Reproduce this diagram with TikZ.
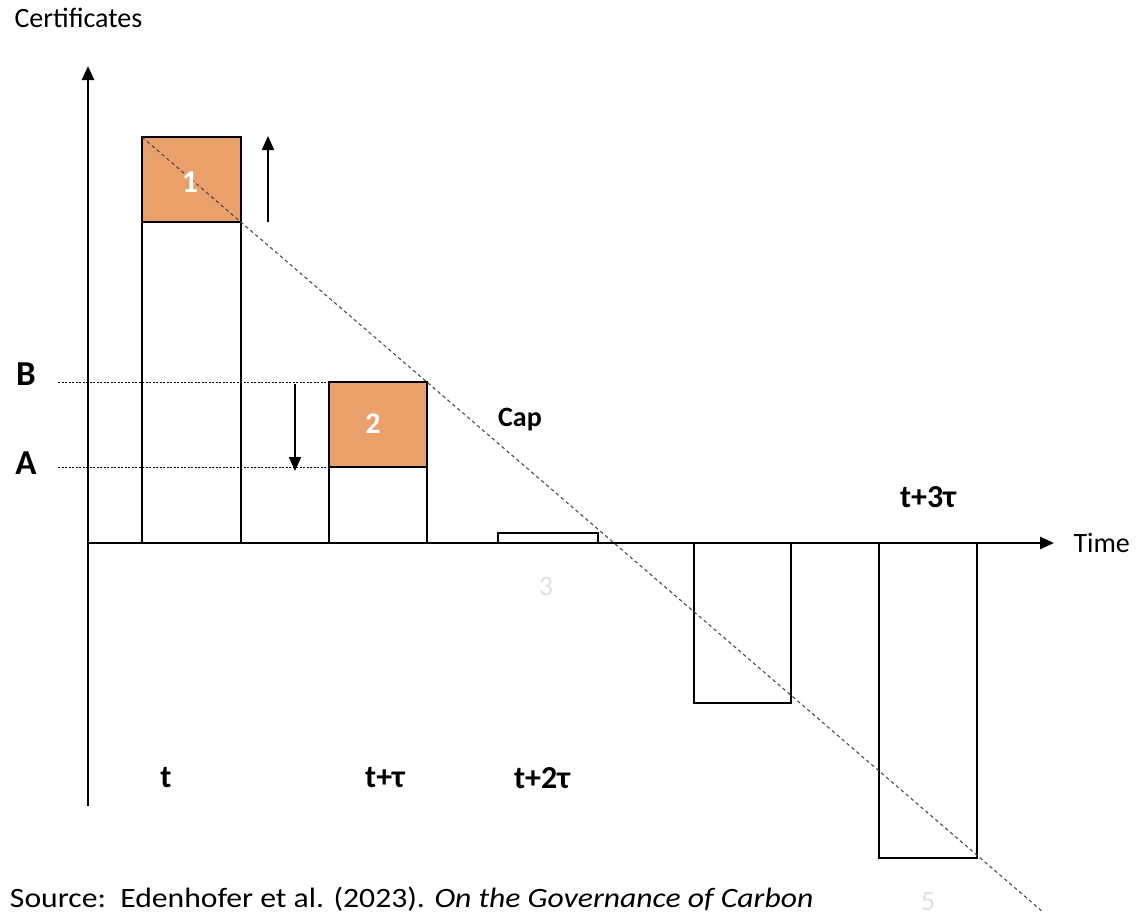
\documentclass[tikz,border=0pt]{standalone}
\usepackage{fontspec}
\setmainfont{Carlito}
\usepackage{xcolor}
\definecolor{permit}{RGB}{233,160,106}
\usetikzlibrary{arrows.meta}

\begin{document}
\begin{tikzpicture}[x = 1pt, y = -1pt, font = \fontsize{28}{32}\selectfont]
 \useasboundingbox (0, 0) rectangle (1137, 916);
 % axes
 \coordinate (origin) at (88, 543);
 \coordinate (ybot) at (88, 806);
 \coordinate (ytop) at (88, 66);
 \coordinate (xend) at (1054, 543);
 \draw[line width = 2.6pt, -{Triangle[length = 14pt, width = 12pt]}] (ybot) -- (ytop);
 \draw[line width = 2.6pt, -{Triangle[length = 14pt, width = 12pt]}] (origin) -- (xend);
 \node[anchor = west] (certs) at (11, 18) {Certificates};
 \node[anchor = west] (time) at (1070, 543) {Time};
 % bars
 \filldraw[line width = 1.6pt, fill = white] (142, 543) rectangle (241, 222);
 \filldraw[line width = 1.6pt, fill = permit] (142, 222) rectangle (241, 137);
 \filldraw[line width = 1.6pt, fill = white] (329, 543) rectangle (427, 467);
 \filldraw[line width = 1.6pt, fill = permit] (329, 467) rectangle (427, 382);
 \draw[line width = 1.6pt] (498, 543) rectangle (598, 533);
 \draw[line width = 1.6pt] (694, 543) rectangle (791, 703);
 \draw[line width = 1.6pt] (879, 543) rectangle (977, 858);
 % cap line
 \coordinate (capa) at (142, 137);
 \coordinate (capb) at (1043, 912);
 \draw[gray!60!black, line width = 1.1pt, dash pattern = on 3.5pt off 3pt] (capa) -- (capb);
 \node[font = \fontsize{28}{32}\selectfont\bfseries] (cap) at (520, 420) {Cap};
 % A and B levels
 \coordinate (bl) at (58, 382);
 \coordinate (br) at (329, 382);
 \coordinate (al) at (58, 467);
 \coordinate (ar) at (329, 467);
 \draw[line width = .8pt, dash pattern = on 2pt off 1.5pt] (bl) -- (br);
 \draw[line width = .8pt, dash pattern = on 2pt off 1.5pt] (al) -- (ar);
 \node[font = \fontsize{35}{40}\selectfont\bfseries] (B) at (26, 374) {B};
 \node[font = \fontsize{35}{40}\selectfont\bfseries] (A) at (26, 463) {A};
 % shifts
 \coordinate (upa) at (268, 222);
 \coordinate (upb) at (268, 136);
 \coordinate (dna) at (295, 384);
 \coordinate (dnb) at (295, 471);
 \draw[line width = 2.2pt, -{Triangle[length = 14pt, width = 12pt]}] (upa) -- (upb);
 \draw[line width = 2.2pt, -{Triangle[length = 14pt, width = 12pt]}] (dna) -- (dnb);
 % numbers
 \node[white, font = \fontsize{32}{36}\selectfont\bfseries] (n1) at (190, 182) {1};
 \node[white, font = \fontsize{30}{34}\selectfont\bfseries] (n2) at (373, 424) {2};
 \node[black!12, font = \fontsize{28}{32}\selectfont] (n3) at (546, 587) {3};
 \node[black!12, font = \fontsize{28}{32}\selectfont] (n5) at (928, 902) {5};
 % periods
 \node[font = \fontsize{32}{36}\selectfont\bfseries] (p0) at (166, 778) {t};
 \node[font = \fontsize{32}{36}\selectfont\bfseries] (p1) at (385, 778) {t+τ};
 \node[font = \fontsize{32}{36}\selectfont\bfseries] (p2) at (542, 778) {t+2τ};
 \node[font = \fontsize{32}{36}\selectfont\bfseries] (p3) at (928, 497) {t+3τ};
 \node[anchor = west, xscale = 1.13, transform shape] (src) at (6, 899) {Source:\ \ Edenhofer et al. (2023). \textit{On the Governance of Carbon}};
\end{tikzpicture}
\end{document}
